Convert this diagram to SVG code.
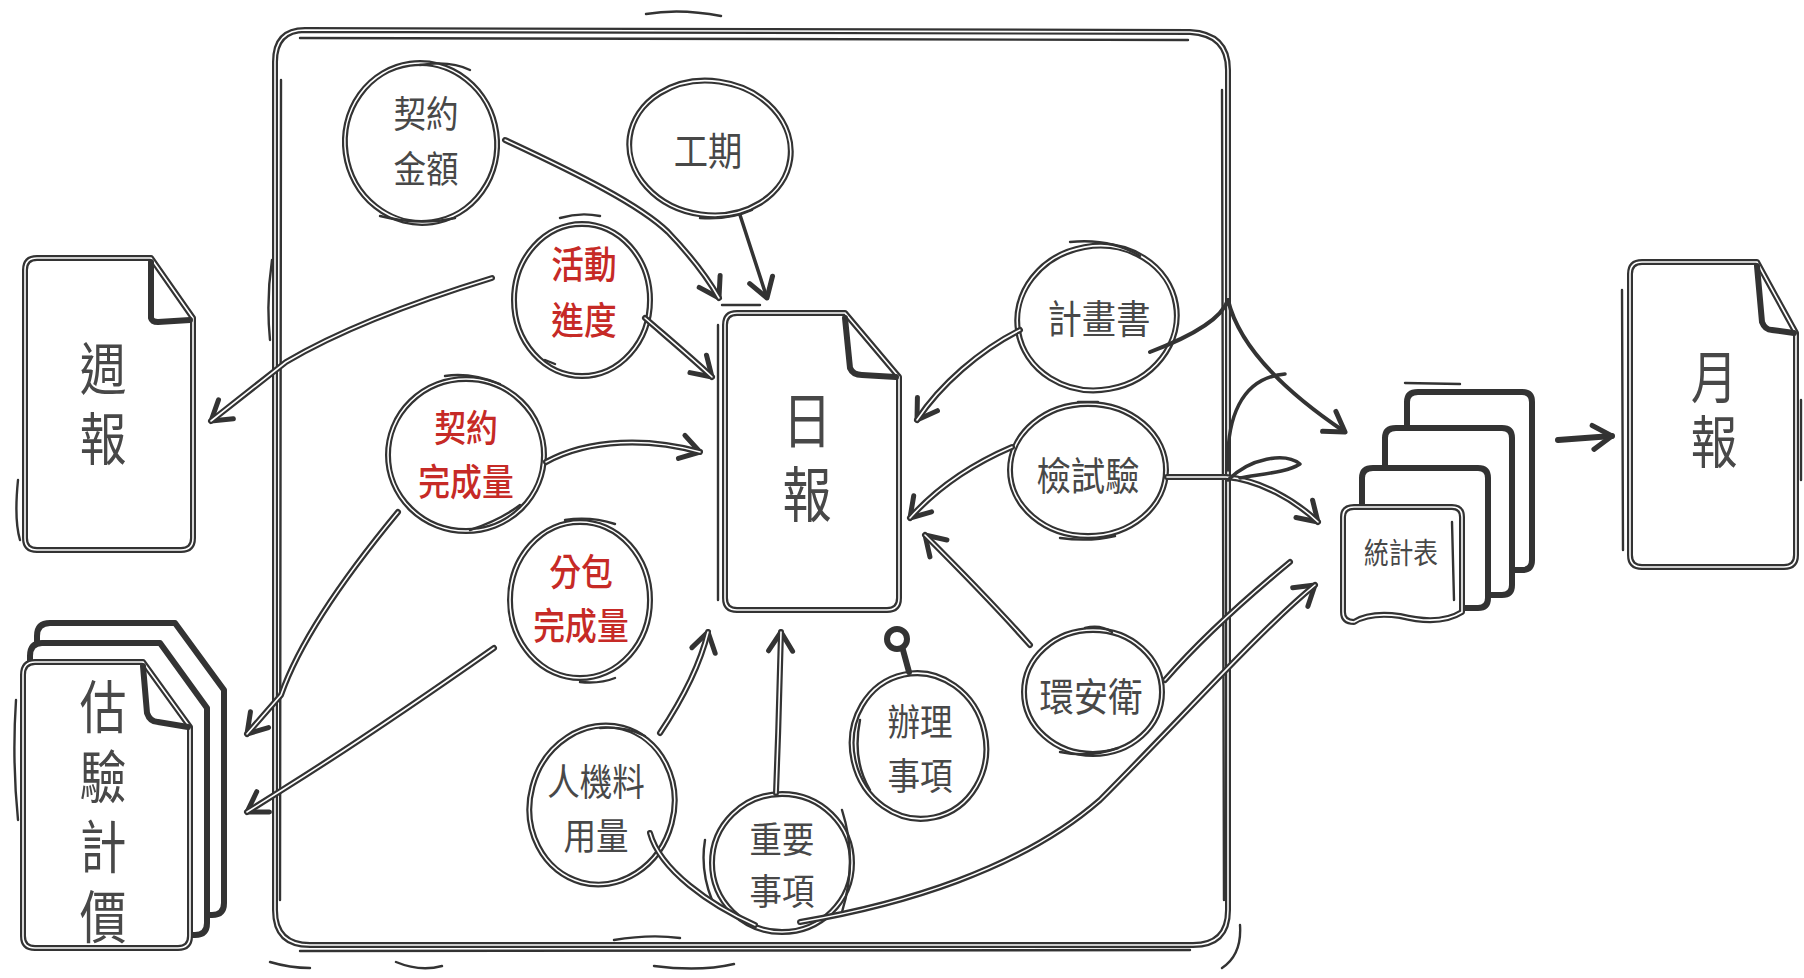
<svg xmlns="http://www.w3.org/2000/svg" xmlns:xlink="http://www.w3.org/1999/xlink" width="1804" height="978" viewBox="0 0 1804 978">
<defs>
<style>
.ln{fill:none;stroke:#333;stroke-width:6;stroke-linecap:round;stroke-linejoin:round}
.fw{fill:#fff;stroke:#333;stroke-width:6;stroke-linecap:round;stroke-linejoin:round}
.hl{fill:none;stroke:#fff;stroke-width:1.6;stroke-linecap:round;stroke-linejoin:round}
.sk{fill:none;stroke:#333;stroke-width:2.4;stroke-linecap:round;stroke-linejoin:round}
.lbl{font-family:"Noto Sans CJK TC","Noto Sans CJK SC",sans-serif;fill:#484848;text-anchor:middle;dominant-baseline:central;font-size:37px}
.red{fill:#c62a26;font-weight:500}
.vt{font-family:"Noto Sans CJK TC","Noto Sans CJK SC",sans-serif;fill:#484848;text-anchor:middle;dominant-baseline:central;writing-mode:vertical-rl;font-size:57px}
</style>
<marker id="ah" markerUnits="userSpaceOnUse" markerWidth="34" markerHeight="34" refX="24" refY="17" orient="auto">
<path d="M5,5 L24,17 L5,29" fill="none" stroke="#333" stroke-width="5" stroke-linecap="round" stroke-linejoin="round"/>
</marker>
</defs>
<rect width="1804" height="978" fill="#fff"/>

<g id="frame">
<path class="ln" d="M305,30 L1190,32 Q1228,34 1228,70 L1228,910 Q1228,945 1193,945 L310,945 Q275,945 275,910 L275,62 Q275,30 305,30 Z"/>
<path class="hl" d="M305,30 L1190,32 Q1228,34 1228,70 L1228,910 Q1228,945 1193,945 L310,945 Q275,945 275,910 L275,62 Q275,30 305,30 Z"/>
<path class="sk" d="M300,38 L1188,40 M1222,90 L1224,900 M300,951 L1190,950 M281,80 L280,900"/>
<path class="sk" d="M646,14 Q680,8 721,16 M614,940 Q650,934 680,938 M654,966 Q700,972 734,964 M270,962 Q290,968 310,968 M396,962 Q420,972 442,966 M1240,925 Q1242,955 1222,968 M270,340 Q266,300 272,260"/>
</g>

<g id="n-weekly">
<path class="fw" d="M37,258 L151,258 L193,318 L193,538 Q193,550 181,550 L37,550 Q25,550 25,538 L25,270 Q25,258 37,258 Z"/>
<path class="hl" d="M37,258 L151,258 L193,318 L193,538 Q193,550 181,550 L37,550 Q25,550 25,538 L25,270 Q25,258 37,258 Z"/>
<path class="ln" d="M151,262 L151,318 Q152,322 158,322 L190,320"/>
<path class="sk" d="M18,480 Q14,520 20,540"/>
<text class="vt" transform="translate(103,410) scale(0.82,1)" style="letter-spacing:13px">週報</text>
</g>

<g id="n-estimate">
<path class="fw" d="M50,623 L175,623 L224,690 L224,903 Q224,915 212,915 L49,915 Q37,915 37,903 L37,636 Q37,623 50,623 Z"/>
<path class="fw" d="M42,643 L160,643 L207,708 L207,923 Q207,935 195,935 L42,935 Q30,935 30,923 L30,656 Q30,643 42,643 Z"/>
<path class="fw" d="M35,662 L143,662 L190,727 L190,936 Q190,948 178,948 L35,948 Q23,948 23,936 L23,675 Q23,662 35,662 Z"/>
<path class="hl" d="M35,662 L143,662 L190,727 L190,936 Q190,948 178,948 L35,948 Q23,948 23,936 L23,675 Q23,662 35,662 Z"/>
<path class="ln" d="M143,666 L147,713 Q150,722 158,722 L188,727"/>
<path class="sk" d="M16,700 Q12,760 18,820"/>
<text class="vt" transform="translate(103,818) scale(0.82,1)" style="letter-spacing:13px">估驗計價</text>
</g>

<g id="n-daily">
<path class="fw" d="M737,313 L845,313 L899,377 L899,598 Q899,610 887,610 L737,610 Q725,610 725,598 L725,325 Q725,313 737,313 Z"/>
<path class="hl" d="M737,313 L845,313 L899,377 L899,598 Q899,610 887,610 L737,610 Q725,610 725,598 L725,325 Q725,313 737,313 Z"/>
<path class="ln" d="M845,318 L850,368 Q853,375 862,375 L896,377"/>
<path class="sk" d="M718,325 L718,600 M722,305 L760,305"/>
<text class="vt" transform="translate(807,464) scale(0.82,1)" style="font-size:60px;letter-spacing:14px">日報</text>
</g>

<g id="n-monthly">
<path class="fw" d="M1642,262 L1757,262 L1796,333 L1796,555 Q1796,567 1784,567 L1642,567 Q1630,567 1630,555 L1630,274 Q1630,262 1642,262 Z"/>
<path class="hl" d="M1642,262 L1757,262 L1796,333 L1796,555 Q1796,567 1784,567 L1642,567 Q1630,567 1630,555 L1630,274 Q1630,262 1642,262 Z"/>
<path class="ln" d="M1757,266 L1762,322 Q1765,330 1772,330 L1794,333"/>
<path class="sk" d="M1622,290 L1623,550 M1801,400 L1801,480"/>
<text class="vt" transform="translate(1714,413) scale(0.82,1)" style="letter-spacing:8px">月報</text>
</g>

<g id="n-stats">
<path class="fw" d="M1418,392 L1522,392 Q1532,392 1532,402 L1532,560 Q1532,570 1522,570 L1418,570 Q1407,570 1407,560 L1407,402 Q1407,392 1418,392 Z"/>
<path class="fw" d="M1396,428 L1502,428 Q1512,428 1512,438 L1512,585 Q1512,595 1502,595 L1396,595 Q1385,595 1385,585 L1385,438 Q1385,428 1396,428 Z"/>
<path class="fw" d="M1373,468 L1478,468 Q1488,468 1488,478 L1488,598 Q1488,608 1478,608 L1373,608 Q1362,608 1362,598 L1362,478 Q1362,468 1373,468 Z"/>
<path class="fw" d="M1354,507 L1452,507 Q1462,507 1462,517 L1462,612 Q1440,626 1400,616 Q1370,612 1354,622 Q1343,622 1343,612 L1343,517 Q1343,507 1354,507 Z"/>
<path class="hl" d="M1354,507 L1452,507 Q1462,507 1462,517 L1462,612 Q1440,626 1400,616 Q1370,612 1354,622 Q1343,622 1343,612 L1343,517 Q1343,507 1354,507 Z"/>
<path class="sk" d="M1405,383 L1460,384 M1452,522 L1454,600"/>
<text class="lbl" transform="translate(1401,552) scale(0.85,1)" style="font-size:29px">統計表</text>
</g>

<g id="n-contract-amount">
<ellipse class="ln" cx="421" cy="143" rx="76" ry="80" transform="rotate(-8 421 143)"/>
<ellipse class="hl" cx="421" cy="143" rx="76" ry="80" transform="rotate(-8 421 143)"/>
<path class="sk" d="M420,65 Q450,60 470,70 M380,216 Q420,226 455,218"/>
<text class="lbl" transform="translate(426,112) scale(0.88,1)">契約</text>
<text class="lbl" transform="translate(426,167) scale(0.88,1)">金額</text>
</g>

<g id="n-duration">
<ellipse class="ln" cx="710" cy="148" rx="81" ry="67" transform="rotate(8 710 148)"/>
<ellipse class="hl" cx="710" cy="148" rx="81" ry="67" transform="rotate(8 710 148)"/>
<path class="sk" d="M700,218 Q730,220 752,210"/>
<text class="lbl" transform="translate(708,148) scale(0.88,1)" style="font-size:39px">工期</text>
</g>

<g id="n-activity">
<ellipse class="ln" cx="582" cy="300" rx="68" ry="76"/>
<ellipse class="hl" cx="582" cy="300" rx="68" ry="76"/>
<path class="sk" d="M560,218 Q580,212 600,216 M545,360 L555,364"/>
<text class="lbl red" transform="translate(584,261) scale(0.86,1)" style="font-size:38px">活動</text>
<text class="lbl red" transform="translate(584,317) scale(0.86,1)" style="font-size:38px">進度</text>
</g>

<g id="n-contract-done">
<ellipse class="ln" cx="466" cy="455" rx="78" ry="76"/>
<ellipse class="hl" cx="466" cy="455" rx="78" ry="76"/>
<path class="sk" d="M445,376 Q470,372 500,384 M470,530 Q500,520 520,505"/>
<text class="lbl red" transform="translate(466,426) scale(0.86,1)">契約</text>
<text class="lbl red" transform="translate(466,480) scale(0.86,1)">完成量</text>
</g>

<g id="n-sub-done">
<ellipse class="ln" cx="580" cy="600" rx="70" ry="78"/>
<ellipse class="hl" cx="580" cy="600" rx="70" ry="78"/>
<path class="sk" d="M565,520 Q590,516 615,524 M580,682 Q600,684 615,678"/>
<text class="lbl red" transform="translate(581,570) scale(0.86,1)">分包</text>
<text class="lbl red" transform="translate(581,624) scale(0.86,1)">完成量</text>
</g>

<g id="n-plan">
<ellipse class="ln" cx="1097" cy="318" rx="80" ry="72" transform="rotate(-10 1097 318)"/>
<ellipse class="hl" cx="1097" cy="318" rx="80" ry="72" transform="rotate(-10 1097 318)"/>
<path class="sk" d="M1070,242 Q1110,238 1140,256"/>
<text class="lbl" transform="translate(1099,316) scale(0.88,1)" style="font-size:39px">計畫書</text>
</g>

<g id="n-test">
<ellipse class="ln" cx="1088" cy="470" rx="78" ry="66"/>
<ellipse class="hl" cx="1088" cy="470" rx="78" ry="66"/>
<path class="sk" d="M1078,402 L1098,402 M1060,538 Q1090,542 1115,536"/>
<text class="lbl" transform="translate(1088,473) scale(0.88,1)" style="font-size:39px">檢試驗</text>
</g>

<g id="n-safety">
<ellipse class="ln" cx="1093" cy="692" rx="69" ry="62"/>
<ellipse class="hl" cx="1093" cy="692" rx="69" ry="62"/>
<path class="sk" d="M1085,628 Q1100,624 1112,632 M1060,752 Q1090,758 1118,748"/>
<text class="lbl" transform="translate(1091,694) scale(0.88,1)" style="font-size:39px">環安衛</text>
</g>

<g id="n-handle">
<ellipse class="ln" cx="919" cy="746" rx="67" ry="73" transform="rotate(-12 919 746)"/>
<ellipse class="hl" cx="919" cy="746" rx="67" ry="73" transform="rotate(-12 919 746)"/>
<path class="sk" d="M860,720 Q852,760 870,790"/>
<text class="lbl" transform="translate(920,720) scale(0.88,1)">辦理</text>
<text class="lbl" transform="translate(920,774) scale(0.88,1)">事項</text>
</g>

<g id="n-resources">
<ellipse class="ln" cx="602" cy="805" rx="72" ry="80" transform="rotate(15 602 805)"/>
<ellipse class="hl" cx="602" cy="805" rx="72" ry="80" transform="rotate(15 602 805)"/>
<path class="sk" d="M600,728 Q625,726 645,736"/>
<text class="lbl" transform="translate(596,780) scale(0.88,1)">人機料</text>
<text class="lbl" transform="translate(596,834) scale(0.88,1)">用量</text>
</g>

<g id="n-important">
<ellipse class="ln" cx="782" cy="863" rx="70" ry="69"/>
<ellipse class="hl" cx="782" cy="863" rx="70" ry="69"/>
<path class="sk" d="M842,810 Q858,860 842,912 M705,840 Q700,870 712,900"/>
<text class="lbl" transform="translate(782,837) scale(0.9,1)" style="font-size:36px">重要</text>
<text class="lbl" transform="translate(782,889) scale(0.9,1)" style="font-size:36px">事項</text>
</g>

<g id="connectors">
<defs>
<path id="c1" d="M505,140 C580,175 640,205 668,232 C690,255 706,275 719,298"/>
<path id="c2" d="M740,215 L767,298"/>
<path id="c3" d="M492,278 C420,300 340,330 286,362 L211,421"/>
<path id="c4" d="M645,318 C668,338 692,358 712,377"/>
<path id="c5" d="M546,462 C590,438 650,438 700,452"/>
<path id="c6" d="M398,512 C350,570 300,640 281,695 L247,734"/>
<path id="c7" d="M494,648 C420,700 330,760 282,790 L247,812"/>
<path id="c8" d="M1020,330 C980,350 940,385 917,420"/>
<path id="c9" d="M1012,447 C970,465 935,490 910,518"/>
<path id="c10" d="M1030,645 C990,600 950,560 925,535"/>
<path id="c11" d="M660,733 C682,700 700,665 708,632"/>
<path id="c12" d="M776,793 C778,740 780,680 781,632"/>
<path id="c14" d="M650,833 C660,870 710,905 755,925"/>
<path id="c15" d="M800,922 C900,905 1020,870 1100,800 C1180,720 1260,630 1315,585"/>
<path id="c16" d="M1165,680 C1200,640 1250,595 1290,562"/>
<path id="c17" d="M1167,477 L1226,477 C1260,480 1295,500 1318,522"/>
<path id="c18" d="M1150,352 C1195,335 1222,318 1228,300 C1240,350 1290,395 1345,432"/>
<path id="c19" d="M1558,440 L1612,436"/>
</defs>
<use xlink:href="#c1" class="ln" marker-end="url(#ah)"/>
<use xlink:href="#c2" class="ln" style="stroke-width:3.5" marker-end="url(#ah)"/>
<use xlink:href="#c3" class="ln" marker-end="url(#ah)"/>
<use xlink:href="#c4" class="ln" marker-end="url(#ah)"/>
<use xlink:href="#c5" class="ln" marker-end="url(#ah)"/>
<use xlink:href="#c6" class="ln" marker-end="url(#ah)"/>
<use xlink:href="#c7" class="ln" marker-end="url(#ah)"/>
<use xlink:href="#c8" class="ln" marker-end="url(#ah)"/>
<use xlink:href="#c9" class="ln" marker-end="url(#ah)"/>
<use xlink:href="#c10" class="ln" marker-end="url(#ah)"/>
<use xlink:href="#c11" class="ln" marker-end="url(#ah)"/>
<use xlink:href="#c12" class="ln" marker-end="url(#ah)"/>
<use xlink:href="#c14" class="ln"/>
<use xlink:href="#c15" class="ln" marker-end="url(#ah)"/>
<use xlink:href="#c16" class="ln"/>
<use xlink:href="#c17" class="ln" marker-end="url(#ah)"/>
<use xlink:href="#c18" class="ln" style="stroke-width:4" marker-end="url(#ah)"/>
<use xlink:href="#c19" class="ln" marker-end="url(#ah)"/>
<use xlink:href="#c1" class="hl"/>
<use xlink:href="#c3" class="hl"/>
<use xlink:href="#c4" class="hl"/>
<use xlink:href="#c5" class="hl"/>
<use xlink:href="#c6" class="hl"/>
<use xlink:href="#c7" class="hl"/>
<use xlink:href="#c8" class="hl"/>
<use xlink:href="#c9" class="hl"/>
<use xlink:href="#c10" class="hl"/>
<use xlink:href="#c11" class="hl"/>
<use xlink:href="#c12" class="hl"/>
<use xlink:href="#c14" class="hl"/>
<use xlink:href="#c15" class="hl"/>
<use xlink:href="#c16" class="hl"/>
<use xlink:href="#c17" class="hl"/>
<path class="ln" d="M909,672 L903,650"/>
<circle class="fw" cx="897" cy="639" r="10"/>
<path class="ln" style="stroke-width:3.5" d="M1228,470 C1226,420 1240,378 1285,374"/>
<path class="ln" style="stroke-width:3.5" d="M1228,480 C1250,458 1285,452 1300,464 C1288,472 1262,474 1240,478"/>
</g>
</svg>
